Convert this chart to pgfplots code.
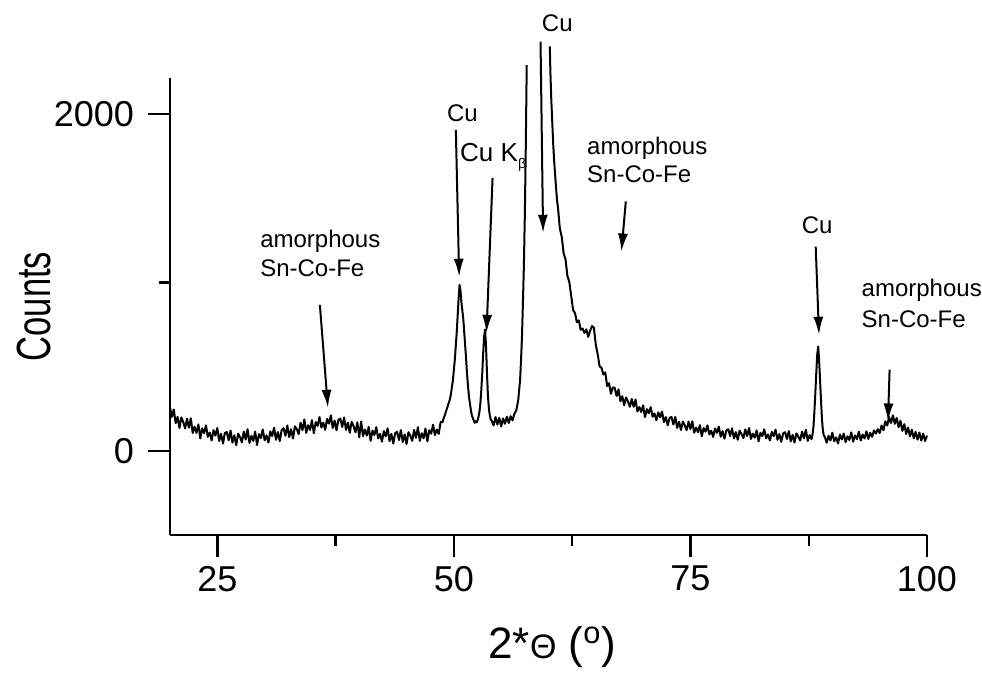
\documentclass[border=0pt]{standalone}
\usepackage{fontspec}
\setmainfont{Liberation Sans}
\usepackage{pgfplots}
\pgfplotsset{compat=1.18}
\usetikzlibrary{arrows.meta}

\begin{document}
\begin{tikzpicture}
\begin{axis}[
  scale only axis, width=378.5pt, height=228.5pt,
  xmin=20, xmax=100, ymin=-500, ymax=2213,
  axis x line*=bottom, axis y line*=left,
  axis line style={-, line width=1.2pt},
  xtick={25,50,75,100}, ytick={0,2000},
  minor xtick={37.5,62.5,87.5}, minor ytick={1000},
  tick align=outside,
  major tick length=11pt, minor tick length=5.5pt,
  tick style={black, line width=1.2pt},
  /pgf/number format/assume math mode=true,
  /pgf/number format/1000 sep={},
  ticklabel style={font=\fontsize{18}{21}\selectfont},
  yticklabel style={xshift=-3.5pt},
  xticklabel style={yshift=-1pt},
  xlabel={2*{\fontsize{17}{17}\selectfont Θ} (\textsuperscript{o})},
  ylabel={\scalebox{0.72}[1]{Counts}},
  xlabel style={font=\fontsize{22}{26}\selectfont, at={(axis description cs:0.505,-0.245)}, anchor=center},
  ylabel style={font=\fontsize{24}{28}\selectfont, at={(axis description cs:-0.18,0.5)}, anchor=center},
  clip=false, unbounded coords=jump,
]
\addplot[black, line width=1pt, line join=round] coordinates {
(20.0,259) (20.2,201) (20.4,245) (20.6,164) (20.8,201) (21.0,135) (21.2,198) (21.4,171) (21.6,133) (21.8,191)
(22.0,137) (22.2,193) (22.4,105) (22.6,143) (22.8,106) (23.0,157) (23.2,73) (23.4,133) (23.6,105) (23.8,151)
(24.0,83) (24.2,108) (24.4,61) (24.6,122) (24.8,90) (25.0,135) (25.2,58) (25.4,101) (25.6,43) (25.8,105)
(26.0,111) (26.2,62) (26.4,120) (26.6,48) (26.8,92) (27.0,33) (27.2,102) (27.4,81) (27.6,50) (27.8,114)
(28.0,67) (28.2,128) (28.4,46) (28.6,89) (28.8,58) (29.0,114) (29.2,34) (29.4,99) (29.6,75) (29.8,126)
(30.0,62) (30.2,92) (30.4,49) (30.6,115) (30.8,87) (31.0,137) (31.2,65) (31.4,111) (31.6,58) (31.8,123)
(32.0,134) (32.2,89) (32.4,150) (32.6,81) (32.8,128) (33.0,73) (33.2,145) (33.4,128) (33.6,99) (33.8,167)
(34.0,122) (34.2,186) (34.4,106) (34.6,152) (34.8,123) (35.0,182) (35.2,104) (35.4,170) (35.6,148) (35.8,200)
(36.0,138) (36.2,167) (36.4,124) (36.6,189) (36.8,161) (37.0,210) (37.2,135) (37.4,179) (37.6,122) (37.8,184)
(38.0,191) (38.2,141) (38.4,198) (38.6,124) (38.8,167) (39.0,107) (39.2,172) (39.4,146) (39.6,110) (39.8,169)
(40.0,80) (40.2,174) (40.4,87) (40.6,126) (40.8,90) (41.0,142) (41.2,59) (41.4,120) (41.6,93) (41.8,140)
(42.0,73) (42.2,100) (42.4,54) (42.6,117) (42.8,86) (43.0,133) (43.2,57) (43.4,100) (43.6,43) (43.8,105)
(44.0,112) (44.2,64) (44.4,123) (44.6,52) (44.8,97) (45.0,40) (45.2,110) (45.4,90) (45.6,59) (45.8,124)
(46.0,77) (46.2,140) (46.4,59) (46.6,104) (46.8,74) (47.0,132) (47.2,55) (47.4,122) (47.6,101) (47.8,154)
(48.0,93) (48.2,126) (48.4,100) (48.6,170) (48.8,170)
(48.9,190) (49.0,205) (49.1,220) (49.2,240) (49.3,255) (49.4,275) (49.5,290) (49.6,310) (49.7,340) (49.8,380)
(49.9,420) (50.0,480) (50.1,540) (50.2,620) (50.3,700) (50.4,800) (50.5,900) (50.6,985) (50.7,950) (50.8,880)
(50.9,830) (51.0,780) (51.1,700) (51.2,620) (51.3,540) (51.4,450) (51.5,380) (51.6,320) (51.7,280) (51.8,240)
(51.9,210) (52.0,195) (52.1,180) (52.2,166) (52.3,175) (52.4,168) (52.5,180) (52.6,200) (52.7,230) (52.8,280)
(52.9,360) (53.0,460) (53.1,580) (53.2,680) (53.3,720) (53.4,620) (53.5,460) (53.6,330) (53.7,250) (53.8,210)
(53.9,185) (54.0,178) (54.2,150) (54.4,200) (54.6,155) (54.8,195) (55.0,145) (55.2,192) (55.4,160) (55.6,202)
(55.8,165) (56.0,205) (56.2,180) (56.4,220) (56.6,240) (56.8,300) (57.0,420) (57.1,540) (57.2,680) (57.3,880)
(57.4,1100) (57.5,1400) (57.6,1800) (57.7,2290)
(58.9,nan)
(60.14,2400) (60.2,2250) (60.3,2080) (60.4,1950) (60.5,1820) (60.6,1720) (60.7,1640) (60.8,1560) (60.9,1490)
(61.0,1445) (61.2,1320) (61.4,1270) (61.6,1172) (61.8,1136) (62.0,1038) (62.2,1002) (62.4,920) (62.6,835) (62.8,818)
(63.0,763) (63.2,774) (63.4,718) (63.6,726) (63.8,700) (64.0,721) (64.2,676) (64.4,713) (64.6,740) (64.8,731)
(65.0,629) (65.2,573) (65.4,501) (65.6,493) (65.8,453) (66.0,465) (66.2,384) (66.4,401) (66.6,338) (66.8,376)
(67.0,374) (67.2,325) (67.4,364) (67.6,294) (67.8,324) (68.0,270) (68.2,317) (68.4,292) (68.6,261) (68.8,307)
(69.0,261) (69.2,304) (69.4,233) (69.6,260) (69.8,230) (70.0,269) (70.2,200) (70.4,247) (70.6,223) (70.8,259)
(71.0,202) (71.2,221) (71.4,181) (71.6,228) (71.8,199) (72.0,233) (72.2,170) (72.4,200) (72.6,151) (72.8,196)
(73.0,200) (73.2,156) (73.4,201) (73.6,136) (73.8,172) (74.0,123) (74.2,173) (74.4,151) (74.6,123) (74.8,173)
(75.0,129) (75.2,175) (75.4,107) (75.6,138) (75.8,110) (76.0,152) (76.2,86) (76.4,135) (76.6,113) (76.8,151)
(77.0,97) (77.2,119) (77.4,82) (77.6,132) (77.8,106) (78.0,143) (78.2,83) (78.4,117) (78.6,72) (78.8,121)
(79.0,128) (79.2,87) (79.4,134) (79.6,73) (79.8,111) (80.0,65) (80.2,119) (80.4,99) (80.6,75) (80.8,127)
(81.0,87) (81.2,135) (81.4,70) (81.6,102) (81.8,77) (82.0,121) (82.2,56) (82.4,107) (82.6,87) (82.8,127)
(83.0,74) (83.2,97) (83.4,61) (83.6,112) (83.8,87) (84.0,125) (84.2,65) (84.4,99) (84.6,53) (84.8,103)
(85.0,110) (85.2,70) (85.4,117) (85.6,56) (85.8,94) (86.0,49) (86.2,103) (86.4,84) (86.6,61) (86.8,114)
(87.0,74) (87.2,124) (87.4,59) (87.6,93) (87.8,69)
(87.9,95) (88.0,140) (88.1,230) (88.2,340) (88.3,460) (88.4,570) (88.5,619) (88.6,540) (88.7,420) (88.8,300)
(88.9,190) (89.0,120) (89.1,90)
(89.2,83) (89.4,48) (89.6,89) (89.8,61) (90.0,107) (90.2,56) (90.4,80) (90.6,43) (90.8,96) (91.0,67)
(91.2,102) (91.4,51) (91.6,86) (91.8,64) (92.0,109) (92.2,54) (92.4,91) (92.6,69) (92.8,113) (93.0,61)
(93.2,96) (93.4,73) (93.6,115) (93.8,70) (94.0,107) (94.2,83) (94.4,121) (94.6,102) (94.8,128) (95.0,105)
(95.2,150) (95.4,122) (95.6,175) (95.8,150) (96.0,200) (96.2,165) (96.4,210) (96.6,160) (96.8,195) (97.0,140)
(97.2,178) (97.4,118) (97.6,158) (97.8,100) (98.0,138) (98.2,86) (98.4,125) (98.6,74) (98.8,112) (99.0,66)
(99.2,108) (99.4,60) (99.6,102) (99.8,58) (100.0,90)
};
% annotations
\tikzset{lab/.style={font=\fontsize{12}{14.5}\selectfont, inner sep=0pt},
         arr/.style={line width=1pt, -{Latex[length=9pt,width=5pt]}}}
\node[lab, anchor=base west] at (axis cs:29.5,1205) {amorphous};
\node[lab, anchor=base west] at (axis cs:29.5,1033) {Sn-Co-Fe};
\draw[arr] (axis cs:35.84,866) -- (axis cs:36.69,255);
\node[lab, anchor=base] at (axis cs:50.9,1954) {Cu};
\draw[arr] (axis cs:50.21,1905) -- (axis cs:50.56,1033);
\node[lab, anchor=base west, font=\fontsize{13}{15}\selectfont] at (axis cs:50.63,1715) {Cu K\raisebox{-3.5pt}{\fontsize{7}{7}\selectfont β}};
\draw[arr] (axis cs:54.09,1620) -- (axis cs:53.45,700);
\node[lab, anchor=base] at (axis cs:60.93,2490) {Cu};
\draw[arr] (axis cs:59.16,2429) -- (axis cs:59.43,1294);
\node[lab, anchor=base west] at (axis cs:64.05,1757) {amorphous};
\node[lab, anchor=base west] at (axis cs:64.05,1590) {Sn-Co-Fe};
\draw[arr] (axis cs:68.17,1480) -- (axis cs:67.71,1183);
\node[lab, anchor=base] at (axis cs:88.4,1292) {Cu};
\draw[arr] (axis cs:88.24,1212) -- (axis cs:88.59,689);
\node[lab, anchor=base west] at (axis cs:93.06,916) {amorphous};
\node[lab, anchor=base west] at (axis cs:93.06,730) {Sn-Co-Fe};
\draw[arr] (axis cs:96.05,481) -- (axis cs:95.88,174);
\end{axis}
\pgfresetboundingbox
\path[use as bounding box] (-85pt,-74pt) rectangle (406pt,267.5pt);
\end{tikzpicture}
\end{document}
